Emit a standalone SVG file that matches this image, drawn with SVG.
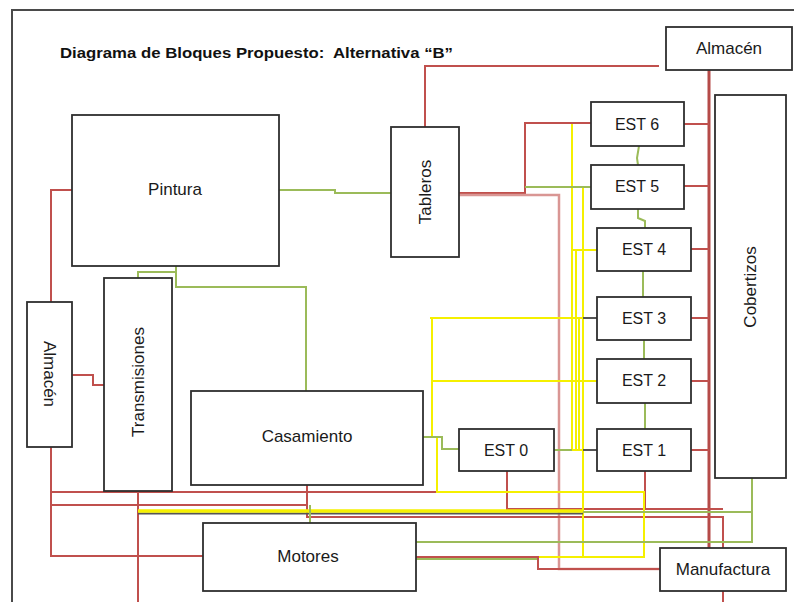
<svg xmlns="http://www.w3.org/2000/svg" width="794" height="602" viewBox="0 0 794 602">
<style>
.box{fill:#fff;stroke:#2e2e2e;stroke-width:1.8}
.lbl{font-family:"Liberation Sans",Arial,sans-serif;font-size:17px;fill:#1a1a1a;text-anchor:middle;dominant-baseline:central}
.est{font-size:16px}
.r{fill:none;stroke:#c0504d;stroke-width:2}
.rt{fill:none;stroke:#b54b48;stroke-width:3}
.p{fill:none;stroke:#d99694;stroke-width:2.5}
.g{fill:none;stroke:#9bbb59;stroke-width:2}
.y{fill:none;stroke:#f5f000;stroke-width:2}
.yt{fill:none;stroke:#f5f000;stroke-width:3.5}
.d{fill:none;stroke:#555;stroke-width:2}
</style>
<rect width="794" height="602" fill="#fff"/>
<path d="M12,602 V10 H794" fill="none" stroke="#4a4a4a" stroke-width="2"/>
<text x="60" y="58" xml:space="preserve" font-family="'Liberation Sans',Arial,sans-serif" font-size="15" font-weight="bold" fill="#111" textLength="393" lengthAdjust="spacingAndGlyphs">Diagrama de Bloques Propuesto:  Alternativa “B”</text>

<g id="connectors">
  <!-- red -->
  <path class="r" d="M659,66 H425 V127"/>
  <path class="rt" d="M709,70 V548"/>
  <path class="r" d="M684,124 H709 M684,186 H709 M691,249 H709 M691,318 H709 M691,381 H709 M691,450 H709"/>
  <path class="r" d="M459,193 H525 V123 H591"/>
  <path class="p" d="M459,195 H559 V569 H660"/>
  <path class="r" d="M72,190 H51 V302"/>
  <path class="r" d="M72,375 H93 V385 H104"/>
  <path class="r" d="M51,447 V556 H203"/>
  <path class="r" d="M51,492 H507"/>
  <path class="r" d="M51,505 H307"/>
  <path class="r" d="M307,485 V517 H723 V548"/>
  <path class="r" d="M507,471 V509 H723"/>
  <path class="r" d="M645,471 V509"/>
  <path class="r" d="M138,491 V602"/>
  <path class="r" d="M723,591 V602"/>
  <!-- yellow -->
  <path class="y" d="M572,124 V450 H597"/>
  <path class="y" d="M576,250 V450"/>
  <path class="y" d="M579,318 V450"/>
  <path class="y" d="M583,187 V557"/>
  <path class="y" d="M572,250 H597"/>
  <path class="y" d="M430,318 H597"/>
  <path class="y" d="M432,318 V437 H423"/>
  <path class="y" d="M432,381 H597"/>
  <path class="y" d="M437,437 V492 H644 V557 H538"/>
  <path class="d" d="M138,513.5 H583"/>
  <path class="yt" d="M138,511 H583"/>
  <path class="d" d="M583,318 H597 M583,450 H597"/>
  <!-- green -->
  <path class="g" d="M279,190 H335 V193 H391"/>
  <path class="g" d="M176,266 V272 H138 V278"/>
  <path class="g" d="M176,272 V287 H306 V391"/>
  <path class="g" d="M525,187 H591"/>
  <path class="g" d="M423,437 H442 V449 H459"/>
  <path class="g" d="M554,450 H572"/>
  <path class="g" d="M639,146 L637,158 L638,165 M638,209 V218 L645,221 V228 M643,271 V297 M644,340 V359 M645,403 V429"/>
  <path class="g" d="M752,478 V542 H416"/>
  <path class="g" d="M752,512 H583"/>
  <path class="g" d="M310,505 V523"/>
  <path class="g" d="M416,559 H538" stroke-width="1.5"/>
  <path class="r" d="M416,557 H538 V569 H660"/>
</g>

<g id="pintura"><rect class="box" x="72" y="115" width="207" height="151"/><text class="lbl" x="175" y="189">Pintura</text></g>
<g id="tableros"><rect class="box" x="391" y="127" width="68" height="130"/><text class="lbl" transform="translate(425,192) rotate(-90)">Tableros</text></g>
<g id="almacen-top"><rect class="box" x="666" y="27" width="126" height="43"/><text class="lbl" x="729" y="48">Almacén</text></g>
<g id="cobertizos"><rect class="box" x="715" y="95" width="71" height="383"/><text class="lbl" transform="translate(750,287) rotate(-90)">Cobertizos</text></g>
<g id="est6"><rect class="box" x="591" y="102" width="93" height="44"/><text class="lbl est" x="637" y="124">EST 6</text></g>
<g id="est5"><rect class="box" x="591" y="165" width="93" height="44"/><text class="lbl est" x="637" y="186">EST 5</text></g>
<g id="est4"><rect class="box" x="597" y="228" width="94" height="43"/><text class="lbl est" x="644" y="249">EST 4</text></g>
<g id="est3"><rect class="box" x="597" y="297" width="94" height="43"/><text class="lbl est" x="644" y="318">EST 3</text></g>
<g id="est2"><rect class="box" x="597" y="359" width="94" height="44"/><text class="lbl est" x="644" y="380">EST 2</text></g>
<g id="est1"><rect class="box" x="597" y="429" width="94" height="42"/><text class="lbl est" x="644" y="450">EST 1</text></g>
<g id="est0"><rect class="box" x="459" y="429" width="95" height="42"/><text class="lbl est" x="506" y="450">EST 0</text></g>
<g id="casamiento"><rect class="box" x="191" y="391" width="232" height="94"/><text class="lbl" x="307" y="436">Casamiento</text></g>
<g id="motores"><rect class="box" x="203" y="523" width="213" height="68"/><text class="lbl" x="308" y="556">Motores</text></g>
<g id="transmisiones"><rect class="box" x="104" y="278" width="68" height="213"/><text class="lbl" transform="translate(138,382) rotate(-90)">Transmisiones</text></g>
<g id="almacen-left"><rect class="box" x="27" y="302" width="45" height="145"/><text class="lbl" transform="translate(49,374) rotate(90)">Almacén</text></g>
<g id="manufactura"><rect class="box" x="660" y="548" width="126" height="43"/><text class="lbl" x="723" y="569">Manufactura</text></g>
</svg>
